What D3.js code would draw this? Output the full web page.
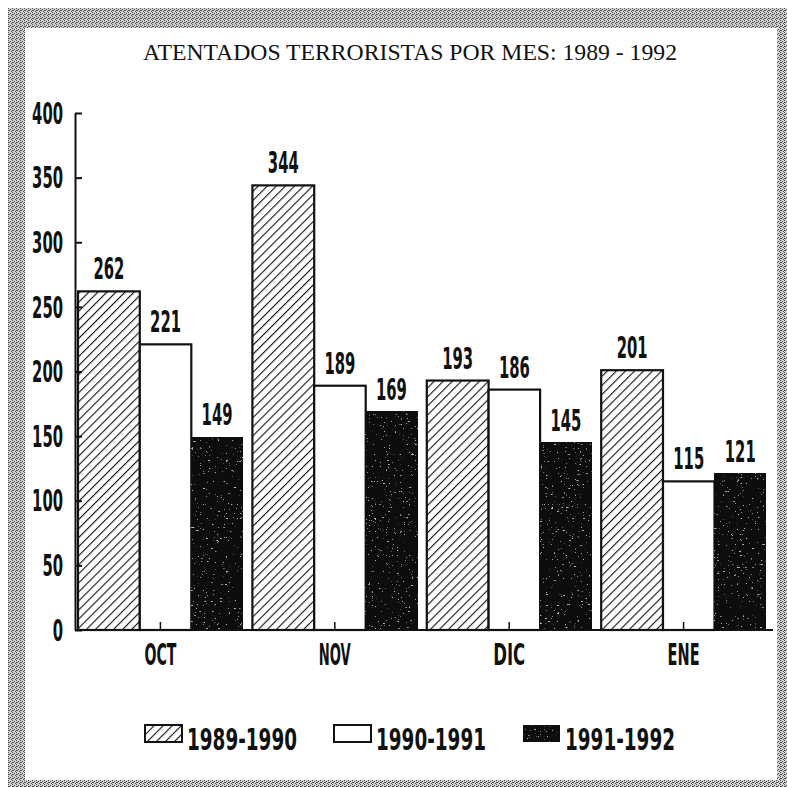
<!DOCTYPE html>
<html>
<head>
<meta charset="utf-8">
<script src="https://cdn.jsdelivr.net/npm/d3@7"></script>
<style>
  body { margin: 0; background: #fff; }
  svg { display: block; }
  .num { font-family: "Liberation Sans Narrow", "DejaVu Sans Condensed", sans-serif; font-weight: bold; font-size: 31px; fill: #111; }
</style>
</head>
<body>
<div id="chart"></div>
<script>
// datos del grafico
const months = ["OCT", "NOV", "DIC", "ENE"];
const seriesNames = ["1989-1990", "1990-1991", "1991-1992"];
const v1989 = [262, 344, 193, 201];
const v1990 = [221, 189, 186, 115];
const v1991 = [149, 169, 145, 121];
const yTicks = [0, 50, 100, 150, 200, 250, 300, 350, 400];
const title = "ATENTADOS TERRORISTAS POR MES: 1989 - 1992";

const seriesValues = [v1989, v1990, v1991];

const W = 787, H = 787;
const plot = { left: 75, right: 773, top: 113, bottom: 630 };
const barWeights = [1.2, 1, 1];   // la barra rayada es algo mas ancha

const svg = d3.select("#chart").append("svg")
  .attr("width", W).attr("height", H);

const defs = svg.append("defs");

// trama gris punteada del marco
const dith = defs.append("pattern").attr("id", "dither")
  .attr("patternUnits", "userSpaceOnUse").attr("width", 4).attr("height", 4);
dith.append("rect").attr("width", 4).attr("height", 4).attr("fill", "#d4d4d4");
[[0, 0], [2, 1], [1, 2], [3, 3], [0, 2]].forEach(p =>
  dith.append("rect").attr("x", p[0]).attr("y", p[1]).attr("width", 1).attr("height", 1).attr("fill", "#4a4a4a"));

// rayado diagonal
const hatch = defs.append("pattern").attr("id", "hatch")
  .attr("patternUnits", "userSpaceOnUse").attr("width", 6.4).attr("height", 6.4)
  .attr("patternTransform", "rotate(45)");
hatch.append("rect").attr("width", 6.4).attr("height", 6.4).attr("fill", "#fff");
hatch.append("line").attr("x1", 0).attr("y1", 0).attr("x2", 0).attr("y2", 6.4)
  .attr("stroke", "#111").attr("stroke-width", 2.2);

// grano para las barras negras
const grain = defs.append("filter").attr("id", "grain")
  .attr("x", 0).attr("y", 0).attr("width", 1).attr("height", 1);
grain.append("feTurbulence").attr("type", "fractalNoise")
  .attr("baseFrequency", "0.35 0.7").attr("numOctaves", 2).attr("seed", 4).attr("result", "n");
grain.append("feColorMatrix").attr("in", "n").attr("type", "matrix")
  .attr("values", "0 0 0 0 0.5  0 0 0 0 0.5  0 0 0 0 0.5  14 0 0 0 -9.9")
  .attr("result", "spk");
grain.append("feComposite").attr("in", "spk").attr("in2", "SourceGraphic").attr("operator", "atop");

const fills = ["url(#hatch)", "#fff", "#0a0a0a"];

// comprime el texto horizontalmente hasta el ancho pedido (fuente estrecha del original)
const squeeze = (sel, widthFn) => sel.each(function (d, i) {
  const t = d3.select(this);
  const x = +t.attr("x") || 0;
  const k = widthFn(d, i) / this.getComputedTextLength();
  t.attr("x", 0).attr("transform", `translate(${x},0) scale(${k},1)`);
});

// marco
svg.append("rect").attr("x", 8).attr("y", 8).attr("width", W - 8).attr("height", H - 8)
  .attr("fill", "url(#dither)");
svg.append("rect").attr("x", 25).attr("y", 28).attr("width", 752).attr("height", 752)
  .attr("fill", "#fff");

svg.append("text")
  .attr("x", 410).attr("y", 60)
  .attr("text-anchor", "middle")
  .attr("textLength", 534).attr("lengthAdjust", "spacingAndGlyphs")
  .style("font-family", "'Liberation Serif', 'DejaVu Serif', serif")
  .style("font-size", "24px").style("fill", "#111")
  .text(title);

// escalas
const x0 = d3.scaleBand().domain(months).range([78, 766]).paddingInner(0.055).paddingOuter(0);
const cum = [0];
barWeights.forEach((w, i) => cum.push(cum[i] + w));
const x1 = d3.scaleLinear().domain([0, cum[cum.length - 1]]).range([0, x0.bandwidth()]);
const y = d3.scaleLinear().domain([0, 400]).range([plot.bottom, plot.top]);

// barras
const bars = [];
months.forEach((m, mi) => {
  seriesValues.forEach((vals, si) => {
    bars.push({ m, si, v: vals[mi] });
  });
});

const g = svg.append("g");
g.selectAll("rect.bar").data(bars).join("rect")
  .attr("class", "bar")
  .attr("x", d => x0(d.m) + x1(cum[d.si]))
  .attr("width", d => x1(cum[d.si + 1]) - x1(cum[d.si]))
  .attr("y", d => y(d.v))
  .attr("height", d => y(0) - y(d.v))
  .attr("fill", d => fills[d.si])
  .attr("filter", d => d.si === 2 ? "url(#grain)" : null)
  .attr("stroke", "#111").attr("stroke-width", 2.2);

g.selectAll("text.val").data(bars).join("text")
  .attr("class", "num val")
  .attr("x", d => x0(d.m) + x1((cum[d.si] + cum[d.si + 1]) / 2))
  .attr("y", d => y(d.v) - 12)
  .attr("text-anchor", "middle")
  .text(d => d.v)
  .call(squeeze, d => String(d.v).length * 10.3);

// eje Y
const yAxis = svg.append("g")
  .attr("transform", `translate(${plot.left},0)`)
  .call(d3.axisLeft(y).tickValues(yTicks).tickSizeInner(-7).tickSizeOuter(0).tickPadding(12));
yAxis.select(".domain").attr("stroke", "#111").attr("stroke-width", 2);
yAxis.selectAll(".tick line").attr("stroke", "#111").attr("stroke-width", 2);
yAxis.selectAll(".tick text")
  .attr("class", "num")
  .attr("font-size", null).attr("font-family", null)
  .attr("dy", "0.33em")
  .call(squeeze, d => String(d).length * 10.3);

// eje X
const xAxis = svg.append("g")
  .attr("transform", `translate(0,${plot.bottom})`)
  .call(d3.axisBottom(x0).tickSizeInner(-8).tickSizeOuter(0).tickPadding(0));
xAxis.select(".domain").remove();
xAxis.selectAll(".tick line").attr("stroke", "#111").attr("stroke-width", 1.5);
xAxis.selectAll(".tick text")
  .attr("class", "num")
  .attr("font-size", null).attr("font-family", null)
  .attr("y", 35).attr("dy", null)
  .call(squeeze, () => 32);
xAxis.append("line")
  .attr("x1", plot.left).attr("x2", plot.right)
  .attr("y1", 0).attr("y2", 0)
  .attr("stroke", "#111").attr("stroke-width", 2.2);

// leyenda
const legend = svg.append("g").attr("transform", "translate(145,725)");
const li = legend.selectAll("g").data(seriesNames).join("g")
  .attr("transform", (d, i) => `translate(${i * 189},0)`);
li.append("rect")
  .attr("width", 37).attr("height", 17)
  .attr("fill", (d, i) => fills[i])
  .attr("filter", (d, i) => i === 2 ? "url(#grain)" : null)
  .attr("stroke", "#111").attr("stroke-width", 2);
li.append("text")
  .attr("class", "num")
  .attr("x", 42).attr("y", 25)
  .text(d => d)
  .call(squeeze, () => 110);
</script>
</body>
</html>
